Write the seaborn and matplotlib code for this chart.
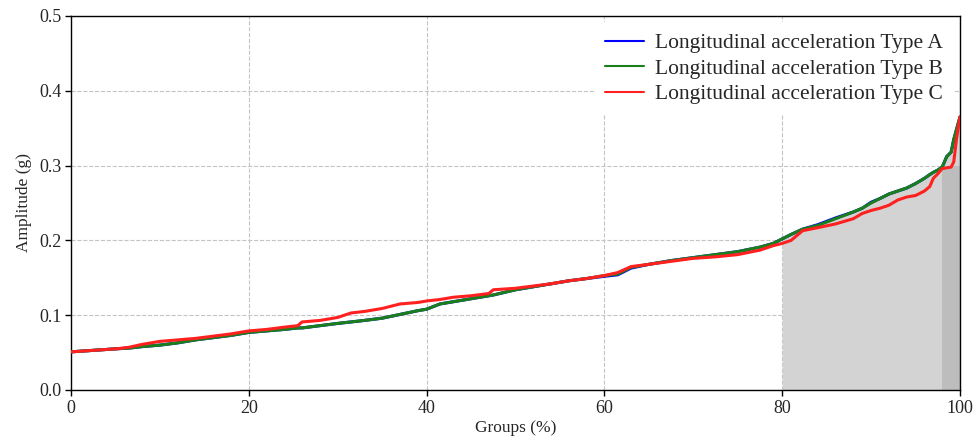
import numpy as np
import pandas as pd
import matplotlib
matplotlib.use("Agg")
import matplotlib.pyplot as plt
import seaborn as sns

# ---- data ----
groups_pct = [0, 2.5, 5, 6.5, 8, 10, 12, 14, 16, 18, 20, 22, 24, 25.5, 26, 28, 30, 31.5, 33, 35,
              37, 39, 40, 41.5, 43, 45, 47, 47.5, 50, 52, 54, 56, 58, 60, 61.5, 63, 65, 67.5, 70,
              72.5, 75, 77.5, 79, 80, 81, 82.3, 84, 86, 88, 89, 90, 91, 92, 93, 94, 95, 96, 96.6,
              97, 97.5, 98, 98.5, 99, 99.3, 99.6, 100]

type_b = [0.051, 0.053, 0.055, 0.056, 0.058, 0.060, 0.063, 0.067, 0.070, 0.073, 0.077, 0.079,
          0.081, 0.083, 0.083, 0.086, 0.089, 0.091, 0.093, 0.096, 0.101, 0.106, 0.108, 0.115,
          0.118, 0.122, 0.126, 0.127, 0.134, 0.138, 0.142, 0.146, 0.149, 0.153, 0.155, 0.164,
          0.168, 0.173, 0.177, 0.181, 0.185, 0.191, 0.196, 0.202, 0.208, 0.215, 0.220, 0.229,
          0.238, 0.243, 0.250, 0.256, 0.262, 0.266, 0.270, 0.276, 0.283, 0.288, 0.291, 0.294,
          0.298, 0.312, 0.318, 0.335, 0.348, 0.365]

type_a = [0.051, 0.053, 0.055, 0.056, 0.058, 0.060, 0.063, 0.067, 0.070, 0.073, 0.077, 0.079,
          0.081, 0.083, 0.083, 0.086, 0.089, 0.091, 0.093, 0.096, 0.101, 0.106, 0.108, 0.115,
          0.118, 0.122, 0.126, 0.127, 0.134, 0.138, 0.142, 0.146, 0.149, 0.152, 0.154, 0.163,
          0.168, 0.173, 0.177, 0.181, 0.185, 0.191, 0.196, 0.202, 0.208, 0.215, 0.221, 0.230,
          0.238, 0.243, 0.251, 0.256, 0.262, 0.266, 0.270, 0.276, 0.283, 0.288, 0.291, 0.294,
          0.298, 0.312, 0.318, 0.335, 0.348, 0.365]

type_c = [0.051, 0.053, 0.055, 0.057, 0.061, 0.065, 0.067, 0.069, 0.072, 0.075, 0.079, 0.081,
          0.084, 0.086, 0.091, 0.093, 0.097, 0.103, 0.105, 0.109, 0.115, 0.117, 0.119, 0.121,
          0.124, 0.126, 0.129, 0.134, 0.136, 0.139, 0.142, 0.146, 0.149, 0.153, 0.157, 0.165,
          0.168, 0.172, 0.176, 0.178, 0.181, 0.187, 0.193, 0.196, 0.200, 0.213, 0.217, 0.222,
          0.229, 0.236, 0.240, 0.243, 0.247, 0.254, 0.258, 0.260, 0.266, 0.272, 0.283, 0.289,
          0.296, 0.297, 0.298, 0.305, 0.335, 0.365]

series_names = ["Longitudinal acceleration Type A",
                "Longitudinal acceleration Type B",
                "Longitudinal acceleration Type C"]
series_colors = ["#0000ff", "#1a7f1a", "#ff2020"]

x_ticks = [0, 20, 40, 60, 80, 100]
y_ticks = [0.0, 0.1, 0.2, 0.3, 0.4, 0.5]

shade_start = 80
dark_start = 98
dark_top = 0.3

# ---- plotting ----
sns.set_style("ticks")
plt.rcParams["font.family"] = ["Liberation Serif", "DejaVu Serif"]

fig, ax = plt.subplots(figsize=(9.74, 4.41), dpi=100)
fig.subplots_adjust(left=71/974, right=960/974, top=1-16/441, bottom=1-390/441)

x = np.array(groups_pct)
yb = np.array(type_b)
ax.fill_between(x, 0, yb, where=x >= shade_start, color="#d3d3d3", linewidth=0, zorder=1)
ax.fill_between([dark_start, 100], 0, dark_top, color="#bdbdbd", linewidth=0, zorder=1.5)

df = pd.DataFrame({"x": groups_pct * 3,
                   "y": type_a + type_b + type_c,
                   "series": [series_names[0]] * len(groups_pct)
                           + [series_names[1]] * len(groups_pct)
                           + [series_names[2]] * len(groups_pct)})

sns.lineplot(data=df, x="x", y="y", hue="series", palette=series_colors,
             linewidth=2.2, ax=ax, zorder=3, estimator=None, sort=False)

ax.set_xlim(0, 100)
ax.set_ylim(0, 0.5)
ax.set_xticks(x_ticks)
ax.set_yticks(y_ticks)
ax.set_xticklabels([str(t) for t in x_ticks])
ax.set_yticklabels([f"{t:.1f}" for t in y_ticks])
ax.tick_params(axis="both", labelsize=13, direction="out", length=4, width=1, color="black", pad=3)
ax.set_xlabel("Groups (%)", fontsize=12.5, labelpad=2)
ax.set_ylabel("Amplitude (g)", fontsize=12.5, labelpad=5)
ax.grid(True, linestyle="--", color="#c4c4c4", linewidth=0.8, zorder=0)
ax.set_axisbelow(True)
for s in ax.spines.values():
    s.set_color("black")
    s.set_linewidth(1)

leg = ax.legend(loc="upper right", fontsize=15.5, frameon=True, framealpha=1,
                handlelength=1.8, borderaxespad=0.3, labelspacing=0.25, handletextpad=0.5,
                borderpad=0.5)
leg.get_frame().set_edgecolor("white")
leg.get_frame().set_facecolor("white")
leg.get_frame().set_linewidth(0)
for h in leg.get_lines():
    h.set_linewidth(1.5)
leg.set_zorder(5)

fig.savefig("out.png", dpi=100)
